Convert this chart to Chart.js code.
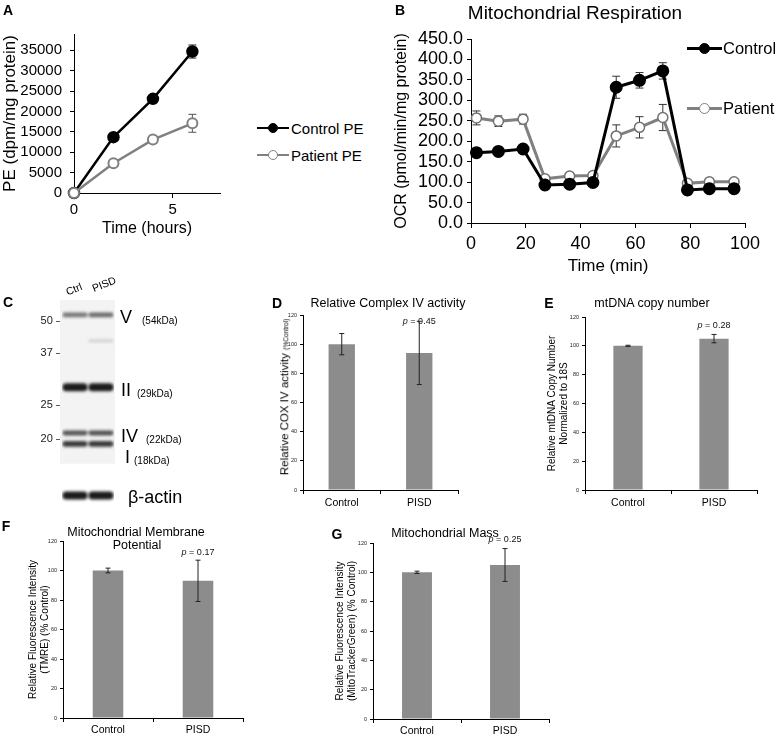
<!DOCTYPE html>
<html><head><meta charset="utf-8">
<script src="https://cdn.jsdelivr.net/npm/chart.js@4.4.1/dist/chart.umd.min.js"></script>
<style>
html,body{margin:0;padding:0;background:#fff;}
#root{position:relative;width:775px;height:735px;overflow:hidden;font-family:"Liberation Sans",Arial,sans-serif;color:#000;}
canvas{position:absolute;}
.t{position:absolute;white-space:nowrap;line-height:1;}
.ln{position:absolute;}
.dot{position:absolute;border-radius:50%;box-sizing:border-box;}
</style></head><body><div id="root"></div>
<script>
// ---------------- DATA ----------------
// Panel A: PE synthesis
const hoursA = [0, 2, 4, 6];
const controlPE = [0, 13700, 23100, 34700];
const controlPEErr = [0, 900, 500, 1600];
const patientPE = [0, 7300, 13100, 17100];
const patientPEErr = [0, 500, 500, 2200];
const yTicksA = [0, 5000, 10000, 15000, 20000, 25000, 30000, 35000];
const xTicksA = [0, 5];

// Panel B: Mitochondrial respiration
const minutesB = [2, 10, 19, 27, 36, 44.5, 53, 61.5, 70, 79, 87, 96];
const controlOCR = [172, 175, 181, 93, 95, 99, 332, 349, 372, 81, 84, 84];
const controlOCRErr = [10, 10, 10, 6, 6, 6, 27, 19, 20, 5, 5, 5];
const patientOCR = [257, 249, 254, 108, 115, 116, 213, 234, 258, 97, 101, 101];
const patientOCRErr = [17, 13, 12, 6, 6, 6, 27, 26, 32, 6, 8, 6];

// Panel C: western blot
const lanes = ['Ctrl', 'PISD'];
const markerKDa = ['50', '37', '25', '20'];
const markerMigration = [21, 53, 106, 140];
const bandNames = ['V', 'faint', 'II', 'IV', 'I', 'β-actin'];
const bandMigration = [15, 41, 88, 134, 145, 197];
const bandIntensity = [[0.55, 0.6], [0, 0.15], [0.95, 0.95], [0.7, 0.72], [0.82, 0.82], [0.95, 0.95]];

// Panels D-G: bar charts
const groups = ['Control', 'PISD'];
const coxActivity = [100, 94];
const coxActivityErr = [7.3, 21.7];
const mtdnaCopy = [100, 105];
const mtdnaCopyErr = [0.4, 2.9];
const tmreIntensity = [100, 93];
const tmreIntensityErr = [1.6, 14];
const mitoMass = [100, 105];
const mitoMassErr = [0.8, 11.2];
const barTicks = [0, 20, 40, 60, 80, 100, 120];
const pValues = ['0.45', '0.28', '0.17', '0.25'];

// ---------------- HELPERS ----------------
const FONT = '"Liberation Sans", Arial, sans-serif';
Chart.defaults.font.family = FONT;
Chart.defaults.color = '#000';
Chart.defaults.animation = false;
const root = document.getElementById('root');

function makeCanvas(left, top, w, h) {
  const c = document.createElement('canvas');
  c.width = w; c.height = h;
  c.style.left = left + 'px'; c.style.top = top + 'px';
  c.style.width = w + 'px'; c.style.height = h + 'px';
  root.appendChild(c);
  return c;
}
function txt(s, x, y, o = {}) {
  const d = document.createElement('div');
  d.className = 't';
  d.innerHTML = s;
  d.style.fontSize = (o.size || 12) + 'px';
  if (o.bold) d.style.fontWeight = 'bold';
  const ax = o.anchor || 'center';
  const tx = ax === 'left' ? '0' : ax === 'right' ? '-100%' : '-50%';
  d.style.left = x + 'px'; d.style.top = y + 'px';
  d.style.transform = `translate(${tx},-50%)` + (o.rotate ? ` rotate(${o.rotate}deg)` : '');
  root.appendChild(d);
  return d;
}
function legendItem(x1, x2, y, color, fill, r, lw, label, tx, size) {
  const l = document.createElement('div');
  l.className = 'ln';
  l.style.left = x1 + 'px'; l.style.width = (x2 - x1) + 'px';
  l.style.top = (y - lw / 2) + 'px'; l.style.height = lw + 'px';
  l.style.background = color;
  root.appendChild(l);
  const d = document.createElement('div');
  d.className = 'dot';
  const cx = (x1 + x2) / 2;
  d.style.left = (cx - r) + 'px'; d.style.top = (y - r) + 'px';
  d.style.width = 2 * r + 'px'; d.style.height = 2 * r + 'px';
  d.style.background = fill; d.style.border = '1.5px solid ' + color;
  root.appendChild(d);
  txt(label, tx, y, { size: size, anchor: 'left' });
}

const errorBars = {
  id: 'errorBars',
  draw(chart, under) {
    const opts = chart.options.plugins.errorBars || {};
    if (!!opts.under !== under) return;
    const ctx = chart.ctx, ys = chart.scales.y;
    chart.data.datasets.forEach((ds, di) => {
      if (!ds.errors) return;
      const meta = chart.getDatasetMeta(di);
      ctx.save();
      ctx.strokeStyle = ds.errorColor || '#222';
      ctx.lineWidth = ds.errorWidth || 1;
      meta.data.forEach((el, i) => {
        const e = ds.errors[i];
        if (!e) return;
        const raw = ds.data[i];
        const v = (raw !== null && typeof raw === 'object') ? raw.y : raw;
        const yt = ys.getPixelForValue(v + e), yb = ys.getPixelForValue(v - e);
        const cw = ds.capWidth || 3;
        ctx.beginPath();
        ctx.moveTo(el.x, yt); ctx.lineTo(el.x, yb);
        ctx.moveTo(el.x - cw, yt); ctx.lineTo(el.x + cw, yt);
        ctx.moveTo(el.x - cw, yb); ctx.lineTo(el.x + cw, yb);
        ctx.stroke();
      });
      ctx.restore();
    });
  },
  beforeDatasetsDraw(chart) { this.draw(chart, true); },
  afterDatasetsDraw(chart) { this.draw(chart, false); }
};

const pLabel = {
  id: 'pLabel',
  afterDatasetsDraw(chart, args, o) {
    if (!o || !o.text) return;
    const ds = chart.data.datasets[0];
    const el = chart.getDatasetMeta(0).data[o.index];
    const y = chart.scales.y.getPixelForValue(ds.data[o.index] + ds.errors[o.index]) + o.offset;
    const ctx = chart.ctx;
    ctx.save();
    const sz = o.size || 9;
    ctx.font = `italic ${sz}px ${FONT}`;
    const w1 = ctx.measureText('p').width;
    const rest = ' = ' + o.text;
    ctx.font = `${sz}px ${FONT}`;
    const w2 = ctx.measureText(rest).width;
    const x = el.x - (w1 + w2) / 2;
    ctx.textBaseline = 'middle'; ctx.fillStyle = '#111';
    ctx.font = `italic ${sz}px ${FONT}`;
    ctx.fillText('p', x, y);
    ctx.font = `${sz}px ${FONT}`;
    ctx.fillText(rest, x + w1, y);
    ctx.restore();
  }
};

function fixedTicks(vals) { return s => { s.ticks = vals.map(v => ({ value: v })); }; }

// ---------------- PANEL A ----------------
new Chart(makeCanvas(0, 0, 240, 245), {
  type: 'line',
  data: { datasets: [
    { label: 'Patient PE', order: 0, data: hoursA.map((h, i) => ({ x: h, y: patientPE[i] })), errors: patientPEErr,
      borderColor: '#808080', borderWidth: 2.5, pointRadius: 5, pointBackgroundColor: '#fff', pointBorderColor: '#808080',
      pointBorderWidth: 2, errorColor: '#555', capWidth: 4, clip: false },
    { label: 'Control PE', order: 1, data: hoursA.map((h, i) => ({ x: h, y: controlPE[i] })), errors: controlPEErr,
      borderColor: '#000', borderWidth: 2.5, pointRadius: 5, pointBackgroundColor: '#000', pointBorderColor: '#000',
      errorColor: '#222', capWidth: 4, clip: false }
  ] },
  options: {
    responsive: false, layout: { padding: { top: 34, right: 20, left: 0, bottom: 0 } },
    plugins: { legend: { display: false }, tooltip: { enabled: false }, errorBars: { under: true } },
    scales: {
      x: { type: 'linear', min: 0, max: 7.4, afterBuildTicks: fixedTicks(xTicksA), afterFit: s => { s.height = 52; },
        grid: { drawOnChartArea: false, tickLength: 5, color: '#000' }, border: { color: '#000' },
        ticks: { font: { size: 15 }, padding: 3, color: '#000', autoSkip: false, callback: v => String(v) },
        title: { display: true, text: 'Time (hours)', font: { size: 16 }, padding: { top: 0, bottom: 7 } } },
      y: { min: 0, max: 39000, afterBuildTicks: fixedTicks(yTicksA), afterFit: s => { s.width = 74; },
        grid: { drawOnChartArea: false, tickLength: 4, color: '#000' }, border: { color: '#000' },
        ticks: { font: { size: 15 }, padding: 8, color: '#000', autoSkip: false, callback: v => String(v) },
        title: { display: true, text: 'PE (dpm/mg protein)', font: { size: 17 }, padding: { top: 0 } } }
    }
  },
  plugins: [errorBars]
});
legendItem(257, 289, 128, '#000', '#000', 5, 2.5, 'Control PE', 291, 15);
legendItem(257, 289, 155, '#808080', '#fff', 5, 2.5, 'Patient PE', 291, 15);

// ---------------- PANEL B ----------------
new Chart(makeCanvas(380, 0, 395, 280), {
  type: 'line',
  data: { datasets: [
    { label: 'Control', order: 0, data: minutesB.map((m, i) => ({ x: m, y: controlOCR[i] })), errors: controlOCRErr,
      borderColor: '#000', borderWidth: 3, pointRadius: 5, pointBackgroundColor: '#000', pointBorderColor: '#000',
      errorColor: '#333', capWidth: 4, clip: false },
    { label: 'Patient', order: 1, data: minutesB.map((m, i) => ({ x: m, y: patientOCR[i] })), errors: patientOCRErr,
      borderColor: '#808080', borderWidth: 3, pointRadius: 5, pointBackgroundColor: '#fff', pointBorderColor: '#707070',
      pointBorderWidth: 1.5, errorColor: '#333', capWidth: 4, clip: false }
  ] },
  options: {
    responsive: false, layout: { padding: { top: 39, right: 30, left: 0, bottom: 0 } },
    plugins: { legend: { display: false }, tooltip: { enabled: false }, errorBars: { under: true } },
    scales: {
      x: { type: 'linear', min: 0, max: 100, ticks: { stepSize: 20, font: { size: 18 }, padding: 5, color: '#000', autoSkip: false },
        afterFit: s => { s.height = 57; },
        grid: { drawOnChartArea: false, tickLength: 5, color: '#000' }, border: { color: '#000' },
        title: { display: true, text: 'Time (min)', font: { size: 17 }, padding: { top: 0, bottom: 3 } } },
      y: { min: 0, max: 450, ticks: { stepSize: 50, font: { size: 18 }, padding: 4, color: '#000', autoSkip: false, callback: v => v.toFixed(1) },
        afterFit: s => { s.width = 91; },
        grid: { drawOnChartArea: false, tickLength: 4, color: '#000' }, border: { color: '#000' },
        title: { display: true, text: 'OCR (pmol/min/mg protein)', font: { size: 16 }, padding: { top: 12 } } }
    }
  },
  plugins: [errorBars]
});
txt('Mitochondrial Respiration', 575, 12, { size: 19 });
legendItem(687, 722, 48, '#000', '#000', 5.5, 3, 'Control', 723, 16.5);
legendItem(687, 722, 108, '#808080', '#fff', 5.5, 3, 'Patient', 723, 16.5);

// ---------------- PANEL C (blot) ----------------
const bandThick = [5, 3, 8, 5, 6, 8];
const blotBg = {
  id: 'blotBg',
  beforeDatasetsDraw(chart) {
    const { ctx, chartArea, scales } = chart;
    ctx.save();
    ctx.fillStyle = '#f3f3f3';
    const y0 = scales.y.getPixelForValue(0), y1 = scales.y.getPixelForValue(165);
    ctx.fillRect(chartArea.left - 2, y0, chartArea.right - chartArea.left + 3, y1 - y0);
    ctx.restore();
    ctx.save();
    ctx.filter = 'blur(1.5px)';
  },
  afterDatasetsDraw(chart) { chart.ctx.restore(); }
};
new Chart(makeCanvas(20, 290, 100, 220), {
  type: 'bar',
  data: {
    labels: lanes,
    datasets: bandNames.map((name, bi) => ({
      label: name,
      data: lanes.map((l, li) => bandIntensity[bi][li] > 0 ? [bandMigration[bi] - bandThick[bi] / 2, bandMigration[bi] + bandThick[bi] / 2] : null),
      backgroundColor: lanes.map((l, li) => `rgba(15,15,15,${bandIntensity[bi][li]})`),
      grouped: false, barPercentage: 0.97, categoryPercentage: 1, borderRadius: 6, borderSkipped: false
    }))
  },
  options: {
    responsive: false, layout: { padding: { top: 10, right: 6, left: 0, bottom: 5 } },
    plugins: { legend: { display: false }, tooltip: { enabled: false } },
    scales: {
      x: { display: false },
      y: { reverse: true, min: 0, max: 205, afterBuildTicks: fixedTicks(markerMigration), afterFit: s => { s.width = 42; },
        ticks: { font: { size: 11 }, padding: 0, color: '#222', autoSkip: false, callback: (v, i) => markerKDa[i] + ' –' },
        grid: { display: false, drawOnChartArea: false, drawTicks: false, tickLength: 0 }, border: { display: false } }
    }
  },
  plugins: [blotBg]
});
txt('Ctrl', 74, 289, { size: 10.5, rotate: -22 });
txt('PISD', 104, 284, { size: 10.5, rotate: -22 });
txt('V', 120, 317, { size: 18, anchor: 'left' });
txt('(54kDa)', 142, 321, { size: 10, anchor: 'left' });
txt('II', 121, 390, { size: 18, anchor: 'left' });
txt('(29kDa)', 137, 394, { size: 10, anchor: 'left' });
txt('IV', 121, 436, { size: 18, anchor: 'left' });
txt('(22kDa)', 146, 440, { size: 10, anchor: 'left' });
txt('I', 125, 457, { size: 18, anchor: 'left' });
txt('(18kDa)', 134, 461, { size: 10, anchor: 'left' });
txt('β-actin', 128, 497, { size: 18, anchor: 'left' });

// ---------------- BAR PANELS ----------------
function barChart(left, top, w, h, values, errs, pv, pOffset, geom, yTitle) {
  return new Chart(makeCanvas(left, top, w, h), {
    type: 'bar',
    data: { labels: groups, datasets: [{ data: values, errors: errs, backgroundColor: '#8c8c8c',
      barPercentage: 0.34, categoryPercentage: 1, errorColor: '#222', errorWidth: 1, capWidth: 2.5 }] },
    options: {
      responsive: false, layout: { padding: { top: geom.top, right: geom.right, left: 0, bottom: 0 } },
      plugins: { legend: { display: false }, tooltip: { enabled: false }, errorBars: { under: false },
        pLabel: { text: pv, index: 1, offset: pOffset, size: 9 } },
      scales: {
        x: { afterFit: s => { s.height = geom.xh; },
          ticks: { font: { size: 10.5 }, padding: geom.xpad, color: '#000' },
          grid: { drawOnChartArea: false, tickLength: 4, color: '#000', offset: true }, border: { color: '#000' } },
        y: { min: 0, max: 120, afterBuildTicks: fixedTicks(barTicks), afterFit: s => { s.width = geom.yw; },
          ticks: { font: { size: 5.5 }, padding: 3, color: '#222', autoSkip: false },
          grid: { drawOnChartArea: false, tickLength: 3, color: '#000' }, border: { color: '#000' },
          title: yTitle ? { display: true, text: yTitle, font: { size: 10 }, padding: { top: geom.tpad } } : { display: false } }
      }
    },
    plugins: [errorBars, pLabel]
  });
}

// D
barChart(240, 290, 240, 220, coxActivity, coxActivityErr, pValues[0], 0,
  { top: 25, right: 22, xh: 20, xpad: 3, yw: 63 }, null);
txt('D', 277, 303, { size: 14, bold: true });
txt('Relative Complex IV activity', 388, 303, { size: 12.5 });
txt('Relative COX IV activity <span style="font-size:6.5px">(%Control)</span>', 285, 397, { size: 11.5, rotate: -90 });

// E
barChart(500, 290, 275, 220, mtdnaCopy, mtdnaCopyErr, pValues[1], -9,
  { top: 27, right: 18, xh: 20, xpad: 3, yw: 85, tpad: 46 }, ['Relative mtDNA Copy Number', 'Normalized to 18S']);
txt('E', 549, 303, { size: 14, bold: true });
txt('mtDNA copy number', 652, 303, { size: 12.5 });

// F
barChart(0, 515, 250, 220, tmreIntensity, tmreIntensityErr, pValues[2], -8,
  { top: 26, right: 7, xh: 17, xpad: 2, yw: 63, tpad: 27 }, ['Relative Fluorescence Intensity', '(TMRE) (% Control)']);
txt('F', 6, 526, { size: 14, bold: true });
txt('Mitochondrial Membrane', 136, 532, { size: 12.5 });
txt('Potential', 137, 545, { size: 12.5 });

// G
barChart(290, 515, 270, 220, mitoMass, mitoMassErr, pValues[3], -9,
  { top: 28, right: 11, xh: 16, xpad: 2, yw: 83, tpad: 44 }, ['Relative Fluorescence Intensity', '(MitoTrackerGreen) (% Control)']);
txt('G', 337, 534, { size: 14, bold: true });
txt('Mitochondrial Mass', 445, 533, { size: 12.5 });

// panel letters
txt('A', 8, 10, { size: 14, bold: true });
txt('B', 400, 10, { size: 14, bold: true });
txt('C', 8, 302, { size: 14, bold: true });
</script></body></html>
